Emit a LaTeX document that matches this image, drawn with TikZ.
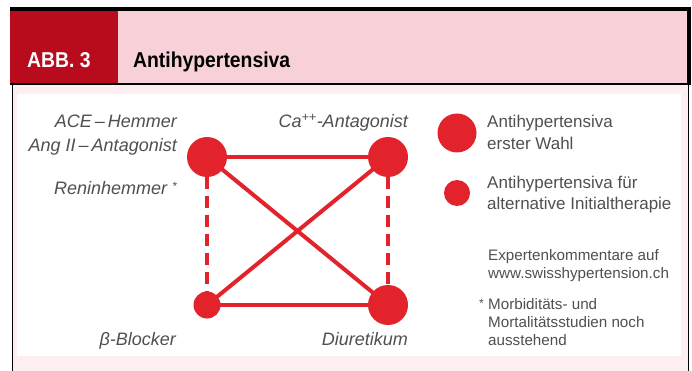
\documentclass[tikz,border=0pt]{standalone}
\usepackage{fontspec}
\setmainfont{Liberation Sans}
\newfontfamily\hdrfont[FakeStretch=0.9]{Liberation Sans}
\definecolor{hdrred}{HTML}{B80C1E}
\definecolor{hdrpink}{HTML}{F8D0D8}
\definecolor{contpink}{HTML}{FCEEF1}
\definecolor{nodered}{HTML}{E3232B}
\definecolor{labgray}{HTML}{505050}
\pgfdeclarelayer{frame}
\pgfdeclarelayer{edges}
\pgfsetlayers{frame,edges,main}
\newcommand{\smallast}[1]{\raisebox{#1}{\fontsize{12}{12}\selectfont *}}
\tikzset{
  bignode/.style={circle,fill=nodered,draw=none,minimum size=40pt,inner sep=0pt},
  smallnode/.style={circle,fill=nodered,draw=none,minimum size=27pt,inner sep=0pt},
  solidedge/.style={draw=nodered,line width=4pt},
  dashedge/.style={draw=nodered,line width=4pt,dash pattern=on 12pt off 7pt},
  lab/.style={inner sep=0pt,anchor=base east,text=labgray,font=\fontsize{18}{22}\selectfont\itshape},
  legtxt/.style={inner sep=0pt,anchor=base west,text=labgray,font=\fontsize{17}{21}\selectfont},
  notetxt/.style={inner sep=0pt,anchor=base west,text=labgray,font=\fontsize{15.2}{19}\selectfont},
  hdr/.style={inner sep=0pt,anchor=base west,font=\hdrfont\bfseries\fontsize{21.5}{24}\selectfont}
}
\begin{document}
\begin{tikzpicture}[x=1pt,y=-1pt]
\useasboundingbox (0,0) rectangle (692,371);
\begin{pgfonlayer}{frame}
\fill[white] (0,0) rectangle (692,371);
% header
\fill[black] (10,7) rectangle (691,11);
\fill[hdrpink] (10,11) rectangle (687,84);
\fill[hdrred] (10,11) rectangle (118,84);
\fill[black] (687,7) rectangle (691,84);
% content frame
\fill[contpink] (12,84) rectangle (688,371);
\fill[white] (17,94) rectangle (681,356);
\draw[black,line width=1.3pt] (10,84) -- (691,84);
\draw[black,line width=1pt] (12,84) -- (12,371);
\draw[black,line width=1pt] (688,84) -- (688,371);
\end{pgfonlayer}
\node[hdr,text=white] (abb) at (27,68) {ABB. 3};
\node[hdr,text=black] (title) at (133,68) {Antihypertensiva};
% diagram nodes
\node[bignode] (ace) at (207,157) {};
\node[bignode] (ca) at (388,157) {};
\node[smallnode] (beta) at (207,305) {};
\node[bignode] (diu) at (388,305) {};
\begin{pgfonlayer}{edges}
\draw[solidedge] (ace.center) -- (ca.center);
\draw[solidedge] (beta.center) -- (diu.center);
\draw[solidedge] (ace.center) -- (diu.center);
\draw[solidedge] (ca.center) -- (beta.center);
\draw[dashedge] (ace.south) -- (beta.north);
\draw[dashedge] (ca.south) -- (diu.north);
\end{pgfonlayer}
% labels
\node[lab] (l1) at (177,128) {ACE\,–\,Hemmer};
\node[lab] (l2) at (177,152) {Ang II\,–\,Antagonist};
\node[lab] (l3) at (177,195) {Reninhemmer \smallast{5pt}};
\node[lab] (l4) at (408,128) {Ca\textsuperscript{++}-Antagonist};
\node[lab] (l5) at (176,345) {β-Blocker};
\node[lab] (l6) at (408,345) {Diuretikum};
% legend
\node[circle,fill=nodered,minimum size=39pt,inner sep=0pt] (leg1) at (457,133) {};
\node[circle,fill=nodered,minimum size=26pt,inner sep=0pt] (leg2) at (457,193) {};
\node[legtxt] (t1a) at (487,128) {Antihypertensiva};
\node[legtxt] (t1b) at (487,150) {erster Wahl};
\node[legtxt] (t2a) at (487,189) {Antihypertensiva für};
\node[legtxt] (t2b) at (487,209) {alternative Initialtherapie};
\node[notetxt] (t3a) at (488,260) {Expertenkommentare auf};
\node[notetxt] (t3b) at (488,278) {www.swisshypertension.ch};
\node[notetxt,anchor=base east] (ast) at (484,309) {\smallast{2pt}};
\node[notetxt] (t4a) at (488,309) {Morbiditäts- und};
\node[notetxt] (t4b) at (488,327) {Mortalitätsstudien noch};
\node[notetxt] (t4c) at (488,345) {ausstehend};
\end{tikzpicture}
\end{document}
